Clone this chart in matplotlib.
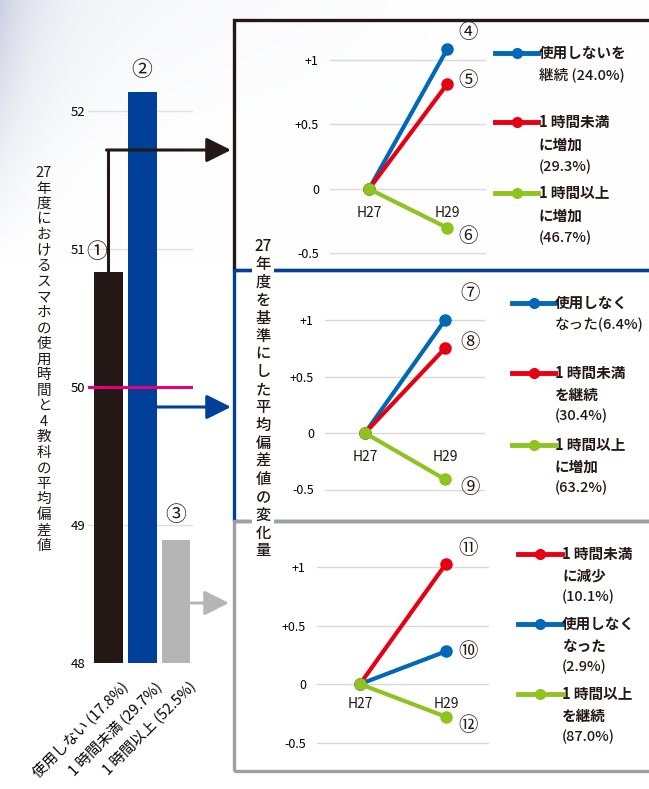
import matplotlib
matplotlib.use("Agg")
import matplotlib.pyplot as plt
import matplotlib.transforms as mtransforms
import numpy as np
from matplotlib.patches import Rectangle, FancyArrowPatch
from matplotlib.lines import Line2D

plt.rcParams['font.family'] = ['Noto Sans CJK JP', 'DejaVu Sans']

W, H = 649, 789

# ---- data ----
bar_labels = ["使用しない (17.8%)", "1 時間未満 (29.7%)", "1 時間以上 (52.5%)"]
bar_values = [50.83, 52.14, 48.89]
bar_marks = ["①", "②", "③"]

years = ["H27", "H29"]

p1_labels = ["使用しないを\n継続 (24.0%)", "1 時間未満\nに増加\n(29.3%)", "1 時間以上\nに増加\n(46.7%)"]
p1_h29 = [1.08, 0.81, -0.30]
p1_marks = ["④", "⑤", "⑥"]

p2_labels = ["使用しなく\nなった(6.4%)", "1 時間未満\nを継続\n(30.4%)", "1 時間以上\nに増加\n(63.2%)"]
p2_h29 = [1.00, 0.75, -0.41]
p2_marks = ["⑦", "⑧", "⑨"]

p3_labels = ["1 時間未満\nに減少\n(10.1%)", "使用しなく\nなった\n(2.9%)", "1 時間以上\nを継続\n(87.0%)"]
p3_h29 = [1.03, 0.28, -0.28]
p3_marks = ["⑪", "⑩", "⑫"]

BLACK = "#231815"
NAVY = "#004098"
GREY = "#b5b5b6"
MAGENTA = "#e4007f"
LBLUE = "#0068b7"
RED = "#e60012"
GREEN = "#8fc31f"


def box(x0, y0, x1, y1):
    return [x0 / W, 1 - y1 / H, (x1 - x0) / W, (y1 - y0) / H]


def fy(y):
    return 1 - y / H


fig = plt.figure(figsize=(W / 100, H / 100), dpi=100)

# soft background haze in the top-left corner
bg = fig.add_axes([0, 0, 1, 1], zorder=-10)
xx, yy = np.meshgrid(np.arange(W), np.arange(H))
a = 0.30 * np.exp(-xx / 40.0) * np.clip(1 - yy / 260.0, 0, 1) + 0.07 * np.clip(1 - yy / 170.0, 0, 1) * np.clip(1 - xx / 500.0, 0, 1)
tint = np.array([0.45, 0.50, 0.68])
img = 1 - a[..., None] * (1 - tint)
bg.imshow(img, aspect='auto', extent=[0, W, H, 0])
bg.axis('off')

# ---- left bar chart ----
axb = fig.add_axes(box(88, 42, 193, 663))
x = np.arange(len(bar_values))
axb.bar(x, np.array(bar_values) - 48, bottom=48, width=0.85,
        color=[BLACK, NAVY, GREY], zorder=2)
axb.set_xlim(-0.6, 2.5)
axb.set_ylim(48, 52.5)
axb.set_yticks([48, 49, 50, 51, 52])
axb.grid(axis='y', color='#e0e0e0', lw=1, zorder=0)
axb.axhline(50, color=MAGENTA, lw=2.2, zorder=3)
axb.patch.set_alpha(0)
for s in axb.spines.values():
    s.set_visible(False)
axb.tick_params(length=0, labelsize=9.5, pad=2)
axb.set_xticks(x)
axb.set_xticklabels(bar_labels, rotation=45, ha='right', va='top',
                    rotation_mode='anchor', fontsize=10.5)
for lab in axb.get_xticklabels():
    lab.set_transform(lab.get_transform() + mtransforms.ScaledTranslation(0.12, -0.13, fig.dpi_scale_trans))

mark_off = [(-8, 7), (0, 8), (0, 10)]
for i, (v, m) in enumerate(zip(bar_values, bar_marks)):
    axb.annotate(m, (i, v), xytext=mark_off[i], textcoords='offset points',
                 ha='center', va='bottom', fontsize=15, color=BLACK)

left_title = "27\n年\n度\nに\nお\nけ\nる\nス\nマ\nホ\nの\n使\n用\n時\n間\nと\n4\n教\n科\nの\n平\n均\n偏\n差\n値"
fig.text(44 / W, fy(166), left_title, ha='center', va='top', fontsize=10.5,
         linespacing=1.14, color=BLACK)

# ---- arrows from bars to panels ----
fig.add_artist(Line2D([107.5 / W, 107.5 / W], [fy(272), fy(150)], color=BLACK, lw=2.2,
                      transform=fig.transFigure))
arrows = [(106.5, 150, 231, BLACK), (157, 407, 231, NAVY), (191, 603, 229, GREY)]
for x0, y0, x1, c in arrows:
    fig.add_artist(FancyArrowPatch(
        (x0 / W, fy(y0)), (x1 / W, fy(y0)), transform=fig.transFigure,
        arrowstyle='-|>,head_length=1.5,head_width=0.75', mutation_scale=10,
        color=c, lw=2.2, shrinkA=0, shrinkB=0))

# ---- panel frames ----
frames = [(20, 270, BLACK), (270, 521, NAVY), (521, 771, '#a0a0a0')]
for t, b, c in frames:
    fig.add_artist(Rectangle((234 / W, fy(b)), 500 / W, (b - t) / H, transform=fig.transFigure,
                             fill=False, ec=c, lw=2.4, clip_on=False))

mid_title = "27\n年\n度\nを\n基\n準\nに\nし\nた\n平\n均\n偏\n差\n値\nの\n変\n化\n量"
fig.text(263 / W, fy(238), mid_title, ha='center', va='top', fontsize=11,
         linespacing=1.07, color=BLACK, zorder=5, fontweight='medium',
         bbox=dict(facecolor='white', edgecolor='none', pad=1.5))


def panel(rect, ylim, labels, h29, marks, colors, offs, yr_drop, leg):
    ax = fig.add_axes(box(*rect))
    ax.set_xlim(-0.5, 1.5)
    ax.set_ylim(*ylim)
    ax.patch.set_alpha(0)
    for s in ax.spines.values():
        s.set_visible(False)
    ax.set_yticks([-0.5, 0, 0.5, 1])
    ax.set_yticklabels(["-0.5", "0", "+0.5", "+1"])
    ax.set_xticks([])
    ax.grid(axis='y', color='#d9d9d9', lw=1)
    ax.tick_params(length=0, labelsize=9, pad=8)
    order = np.argsort([c == GREEN for c in colors], kind='stable')
    for k in order:
        ax.plot([0, 1], [0, h29[k]], color=colors[k], lw=3, marker='o', ms=8,
                clip_on=False, solid_capstyle='round')
    for k in range(3):
        ax.annotate(marks[k], (1, h29[k]), xytext=offs[k], textcoords='offset points',
                    ha='center', va='center', fontsize=14, color=BLACK)
    for i, yr in enumerate(years):
        ax.annotate(yr, (i, 0), xytext=(0, -yr_drop), textcoords='offset points',
                    ha='center', va='center', fontsize=10, color=BLACK)
    lx0, lx1, tx, ys, step = leg
    for k in range(3):
        y = ys[k]
        fig.add_artist(Line2D([lx0 / W, (lx0 + lx1) / 2 / W, lx1 / W], [fy(y)] * 3,
                              color=colors[k], lw=3.5, marker='o', ms=7, markevery=[1],
                              transform=fig.transFigure))
        for j, line in enumerate(labels[k].split("\n")):
            fig.text(tx / W, fy(y + j * step), line, ha='left', va='center',
                     fontsize=10.5, color=BLACK, fontweight='bold' if '(' not in line else 'medium')
    return ax


panel((330, 34, 486, 266.4), (-0.6, 1.2), p1_labels, p1_h29, p1_marks,
      [LBLUE, RED, GREEN], [(15, 12), (15, 3), (15, -6)], 17,
      (495, 538, 539, [53, 122, 193], 22.5))
panel((325, 297.4, 485, 500.8), (-0.6, 1.2), p2_labels, p2_h29, p2_marks,
      [LBLUE, RED, GREEN], [(18, 19), (18, 4), (18, -6)], 17,
      (512, 555, 555, [303, 373, 445], 21.5))
panel((317, 538, 489, 754.2), (-0.6, 1.25), p3_labels, p3_h29, p3_marks,
      [RED, LBLUE, GREEN], [(16, 11), (16, 0), (16, -6)], 14,
      (518, 562, 562, [554, 624, 694], 21.5))

fig.savefig("out.png", dpi=100)
